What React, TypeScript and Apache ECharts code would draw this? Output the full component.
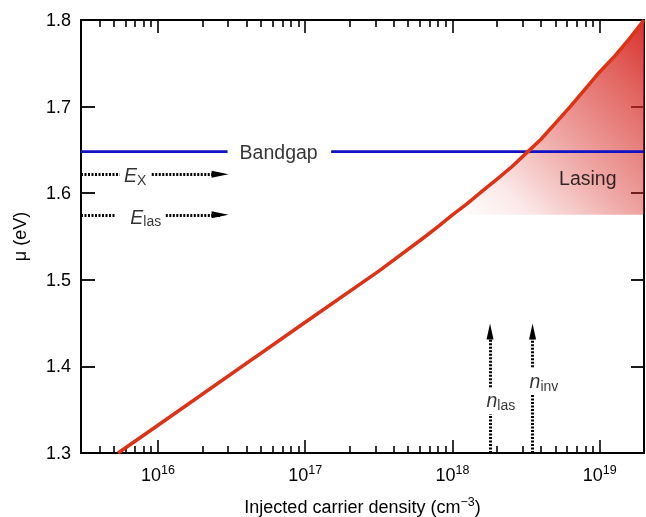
import React, { useEffect, useRef } from 'react';
import * as echarts from 'echarts';

// ---- axis ranges & ticks ----
const X_MIN = 3e15;
const X_MAX = 2e19;
const Y_MIN = 1.3;
const Y_MAX = 1.8;
const yTickValues = [1.3, 1.4, 1.5, 1.6, 1.7, 1.8];
const xMajorTicks = [1e16, 1e17, 1e18, 1e19];
const xMinorMantissas = [2, 3, 4, 5, 6, 7, 8, 9];
const xMinorDecades = [1e15, 1e16, 1e17, 1e18, 1e19];

// ---- chemical potential curve ----
const densityCurve = [
  5.36e15, 1e16, 1e17, 3.16e17, 6.31e17, 7.94e17, 1e18, 1.26e18, 1.585e18, 2e18, 2.51e18, 3.16e18,
  3.98e18, 5.01e18, 6.31e18, 7.94e18, 1e19, 1.26e19, 1.585e19, 2e19,
];
const muCurve = [
  1.3, 1.332, 1.451, 1.51, 1.548, 1.561, 1.575, 1.588, 1.602, 1.616, 1.63, 1.646,
  1.662, 1.681, 1.7, 1.72, 1.74, 1.758, 1.778, 1.8,
];

// ---- reference levels ----
const bandgapEnergy = 1.648;
const excitonEnergy = 1.622;
const lasingEnergy = 1.575;
const nLas = 1.8e18;
const nInv = 3.5e18;

// bandgap line gap (around its label)
const bandgapGap = [2.97e16, 1.5e17];
// horizontal arrows: gap (label), arrow head centre
const eArrowHead = 2.64e16;
const eXGap = [5.5e15, 9.07e15];
const eLasGap = [5.17e15, 1.13e16];
// vertical arrows: gap (label), arrow head centre
const nArrowHead = 1.4403;
const nLasGap = [1.345, 1.376];
const nInvGap = [1.367, 1.399];

// label anchors
const labelBandgap = [6.6e16, 1.648];
const labelLasing = [8.3e18, 1.6176];
const labelEX = [7.0e15, 1.621];
const labelELas = [8.26e15, 1.573];
const labelNLas = [2.13e18, 1.361];
const labelNInv = [4.18e18, 1.383];

const FONT = 'Liberation Sans, Arial, Helvetica, sans-serif';
const INK = '#000';
const lx = (v: number) => Math.log10(v);

export default function App() {
  const ref = useRef<HTMLDivElement>(null);
  useEffect(() => {
    if (!ref.current) return;
    const chart = echarts.init(ref.current, undefined, { renderer: 'svg' });

    const minorTicks: number[] = [];
    xMinorDecades.forEach((d) => xMinorMantissas.forEach((m) => {
      const v = m * d;
      if (v > X_MIN * 1.001 && v < X_MAX * 0.999) minorTicks.push(lx(v));
    }));
    const majorTicks = xMajorTicks.map(lx);

    const xAxisBase = (position: string, ticks: number[], len: number, showLabel: boolean) => ({
      type: 'value',
      position,
      min: lx(X_MIN),
      max: lx(X_MAX),
      axisLine: { show: true, onZero: false, lineStyle: { color: '#000', width: 2 } },
      axisTick: { show: true, inside: true, length: len, customValues: ticks, lineStyle: { color: '#000', width: 1.6 } },
      axisLabel: showLabel
        ? {
            show: true,
            customValues: majorTicks,
            margin: 10,
            formatter: (v: number) => `{a|10}{b|${Math.round(v)}}`,
            rich: {
              a: { fontSize: 18, fontFamily: FONT, color: INK },
              b: { fontSize: 12.5, fontFamily: FONT, color: INK, padding: [0, 0, 11, 0] },
            },
          }
        : { show: false },
      splitLine: { show: false },
    });

    const yAxisBase = (position: string, len: number, showLabel: boolean) => ({
      type: 'value',
      position,
      min: Y_MIN,
      max: Y_MAX,
      axisLine: { show: true, onZero: false, lineStyle: { color: '#000', width: 2 } },
      axisTick: { show: true, inside: true, length: len, customValues: yTickValues, lineStyle: { color: '#000', width: 1.8 } },
      axisLabel: showLabel
        ? {
            show: true,
            customValues: yTickValues,
            margin: 10,
            fontSize: 18,
            fontFamily: FONT,
            color: INK,
            formatter: (v: number) => v.toFixed(1),
          }
        : { show: false },
      splitLine: { show: false },
    });

    const seg = (x1: number, y1: number, x2: number, y2: number, arrow: boolean, vertical = false) => [
      { coord: [x1, y1], symbol: 'none' },
      { coord: [x2, y2], symbol: arrow ? 'triangle' : 'none', symbolSize: arrow ? (vertical ? [7, 16] : [7, 17]) : 0 },
    ];

    const lasingIdx = densityCurve.findIndex((d) => d >= 1e18);
    const lasingData = densityCurve.slice(lasingIdx).map((d, i) => [lx(d), muCurve[lasingIdx + i]]);

    const italicRich = {
      i: { fontSize: 19.5, fontStyle: 'italic', fontFamily: FONT, color: INK },
      s: { fontSize: 14, fontFamily: FONT, color: INK, padding: [9, 0, 0, 0] },
      t: { fontSize: 19.5, fontFamily: FONT, color: INK },
    };

    const labelItem = (pos: number[], text: string) => ({
      value: [lx(pos[0]), pos[1]],
      label: { show: true, position: 'inside', formatter: text, rich: italicRich },
    });

    chart.setOption({
      animation: false,
      grid: { left: 81, right: 2, top: 20, bottom: 64, containLabel: false, outerBoundsMode: 'none' },
      xAxis: [
        {
          ...xAxisBase('bottom', majorTicks, 13, true),
          name: 'Injected carrier density (cm{s|−3})',
          nameLocation: 'middle',
          nameGap: 42,
          nameTextStyle: {
            fontSize: 18,
            fontFamily: FONT,
            color: INK,
            rich: { s: { fontSize: 12.5, fontFamily: FONT, color: INK, padding: [0, 0, 11, 0] } },
          },
        },
        xAxisBase('bottom', minorTicks, 7, false),
        xAxisBase('top', majorTicks, 13, false),
        xAxisBase('top', minorTicks, 7, false),
      ],
      yAxis: [
        {
          ...yAxisBase('left', 14, true),
          name: 'μ (eV)',
          nameLocation: 'middle',
          nameGap: 52,
          nameRotate: 90,
          nameTextStyle: { fontSize: 18, fontFamily: FONT, color: INK },
        },
        yAxisBase('right', 13, false),
      ],
      series: [
        {
          type: 'line',
          name: 'Lasing',
          data: lasingData,
          showSymbol: false,
          lineStyle: { width: 0 },
          areaStyle: {
            origin: lasingEnergy,
            opacity: 1,
            color: new echarts.graphic.LinearGradient(0, 1, 1, 0, [
              { offset: 0, color: 'rgba(214,38,32,0)' },
              { offset: 0.2, color: 'rgba(214,38,32,0.1)' },
              { offset: 0.45, color: 'rgba(214,38,32,0.38)' },
              { offset: 0.8, color: 'rgba(214,38,32,0.72)' },
              { offset: 1, color: 'rgba(214,38,32,0.95)' },
            ]),
          },
          silent: true,
          z: 1,
        },
        {
          type: 'line',
          name: 'Bandgap',
          data: [
            [lx(X_MIN), bandgapEnergy],
            [lx(bandgapGap[0]), bandgapEnergy],
            [lx((bandgapGap[0] + bandgapGap[1]) / 2), '-'],
            [lx(bandgapGap[1]), bandgapEnergy],
            [lx(X_MAX), bandgapEnergy],
          ],
          showSymbol: false,
          connectNulls: false,
          lineStyle: { color: '#1212c4', width: 2.8 },
          silent: true,
          z: 2,
          markLine: {
            silent: true,
            animation: false,
            symbol: ['none', 'none'],
            label: { show: false },
            lineStyle: { color: '#000', width: 3, type: [2, 1.5] },
            data: [
              seg(lx(X_MIN), excitonEnergy, lx(eXGap[0]), excitonEnergy, false),
              seg(lx(eXGap[1]), excitonEnergy, lx(eArrowHead), excitonEnergy, true),
              seg(lx(X_MIN), lasingEnergy, lx(eLasGap[0]), lasingEnergy, false),
              seg(lx(eLasGap[1]), lasingEnergy, lx(eArrowHead), lasingEnergy, true),
              seg(lx(nLas), Y_MIN, lx(nLas), nLasGap[0], false),
              seg(lx(nLas), nLasGap[1], lx(nLas), nArrowHead, true, true),
              seg(lx(nInv), Y_MIN, lx(nInv), nInvGap[0], false),
              seg(lx(nInv), nInvGap[1], lx(nInv), nArrowHead, true, true),
            ],
          },
        },
        {
          type: 'line',
          name: 'mu',
          data: densityCurve.map((d, i) => [lx(d), muCurve[i]]),
          showSymbol: false,
          lineStyle: { color: '#df3214', width: 3.5, join: 'round' },
          silent: true,
          z: 3,
        },
        {
          type: 'scatter',
          symbolSize: 1,
          itemStyle: { color: 'rgba(0,0,0,0)' },
          silent: true,
          z: 5,
          data: [
            labelItem(labelBandgap, '{t|Bandgap}'),
            labelItem(labelLasing, '{t|Lasing}'),
            labelItem(labelEX, '{i|E}{s|X}'),
            labelItem(labelELas, '{i|E}{s|las}'),
            labelItem(labelNLas, '{i|n}{s|las}'),
            labelItem(labelNInv, '{i|n}{s|inv}'),
          ],
        },
      ],
    });
    return () => chart.dispose();
  }, []);
  return <div ref={ref} style={{ position: 'fixed', left: 0, top: 0, width: 646, height: 517 }} />;
}
